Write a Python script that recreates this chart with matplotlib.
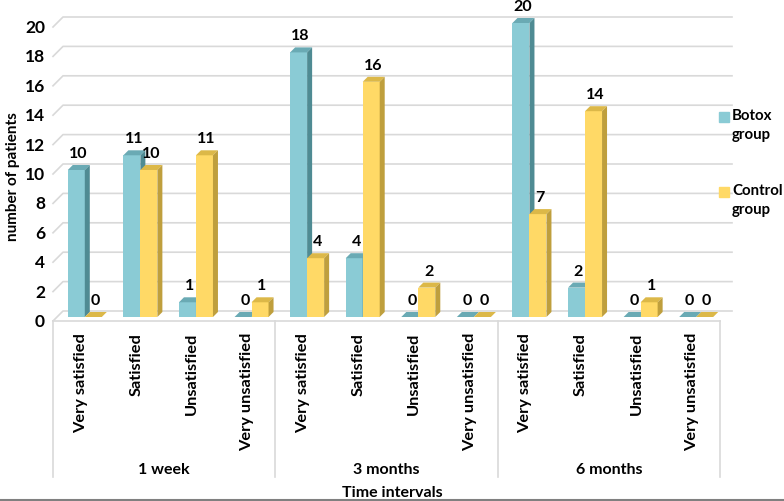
import matplotlib.pyplot as plt
from matplotlib.patches import Polygon, Rectangle
from matplotlib.lines import Line2D

periods = ['1 week', '3 months', '6 months']
ratings = ['Very satisfied', 'Satisfied', 'Unsatisfied', 'Very unsatisfied']
botox = [10, 11, 1, 0, 18, 4, 0, 0, 20, 2, 0, 0]
control = [0, 10, 11, 1, 4, 16, 2, 0, 7, 14, 1, 0]
yticks = list(range(0, 21, 2))

# face colours: front, side, top
botox_col = ('#8acbd5', '#4f8b93', '#6aaab4')
control_col = ('#ffd966', '#bf9f3d', '#dcb848')
grid_col = '#d9d9d9'

plt.rcParams['font.family'] = ['Lato', 'DejaVu Sans']
plt.rcParams['font.weight'] = 'bold'

W, H = 784, 502
fig = plt.figure(figsize=(W / 100, H / 100), dpi=100)
ax = fig.add_axes([53 / W, 1 - 322 / H, 667 / W, 294 / H])
ax.set_xlim(0, 12)
ax.set_ylim(0, 20)
ax.axis('off')

px = 12 / 667   # one pixel in x data units
py = 20 / 294   # one pixel in y data units

# back wall gridlines with slanted left part
for v in yticks:
    ax.plot([0, 10 * px, 12 + 12 * px], [v, v + 10 * py, v + 10 * py],
            color=grid_col, lw=1.2, clip_on=False, zorder=0)
    ax.text(-8 * px, v, str(v), ha='right', va='center', fontsize=12.5)

# 3d looking bars
w = 17 * px
ox, oy = 4 * px, 4 * py
dx, dy = 5 * px, 5 * py


def bar3d(x0, h, cols):
    front, side, top = cols
    ax.bar(x0, h, width=w, bottom=oy, align='edge', color=front,
           linewidth=0, zorder=3, clip_on=False)
    ax.add_patch(Polygon([(x0, oy + h), (x0 + w, oy + h),
                          (x0 + w + dx, oy + h + dy), (x0 + dx, oy + h + dy)],
                         closed=True, color=top, lw=0, zorder=3, clip_on=False))
    ax.add_patch(Polygon([(x0 + w, oy), (x0 + w + dx, oy + dy),
                          (x0 + w + dx, oy + h + dy), (x0 + w, oy + h)],
                         closed=True, color=side, lw=0, zorder=3, clip_on=False))
    ax.text(x0 + w / 2 + 2 * px, oy + h + dy + 5 * py, str(h),
            ha='center', va='bottom', fontsize=11.5, zorder=4)


for i in range(12):
    c = i + 0.5 + ox
    bar3d(c - w, botox[i], botox_col)
    bar3d(c, control[i], control_col)

# category axis box
ax.plot([0, 12], [0, 0], color=grid_col, lw=1.2, clip_on=False)
for g in range(4):
    ax.plot([4 * g, 4 * g], [0, -156 * py], color=grid_col, lw=1.2, clip_on=False)

for i in range(12):
    ax.text(i + 0.5, -11 * py, ratings[i % 4], rotation=90, ha='center',
            va='top', fontsize=11.8)
for g, p in enumerate(periods):
    ax.text(4 * g + 2, -148 * py, p, ha='center', va='center', fontsize=11.5)

fig.text(392 / W, 1 - 493 / H, 'Time intervals', ha='center', va='center', fontsize=11.5)
fig.text(13 / W, 1 - 177 / H, 'number of patients', rotation=90,
         ha='center', va='center', fontsize=11)

# legend
for yy, lab, col in [(118, 'Botox\ngroup', botox_col[0]), (193, 'Control\ngroup', control_col[0])]:
    fig.add_artist(Rectangle((719 / W, 1 - (yy + 5) / H), 10 / W, 10 / H,
                             color=col, transform=fig.transFigure))
    fig.text(732 / W, 1 - (yy - 9) / H, lab, ha='left', va='top',
             fontsize=10.8, linespacing=1.45)

fig.add_artist(Line2D([0, 1], [1.5 / H, 1.5 / H], color='#808080', lw=1.5,
                      transform=fig.transFigure))

fig.savefig('out.png', dpi=100)
